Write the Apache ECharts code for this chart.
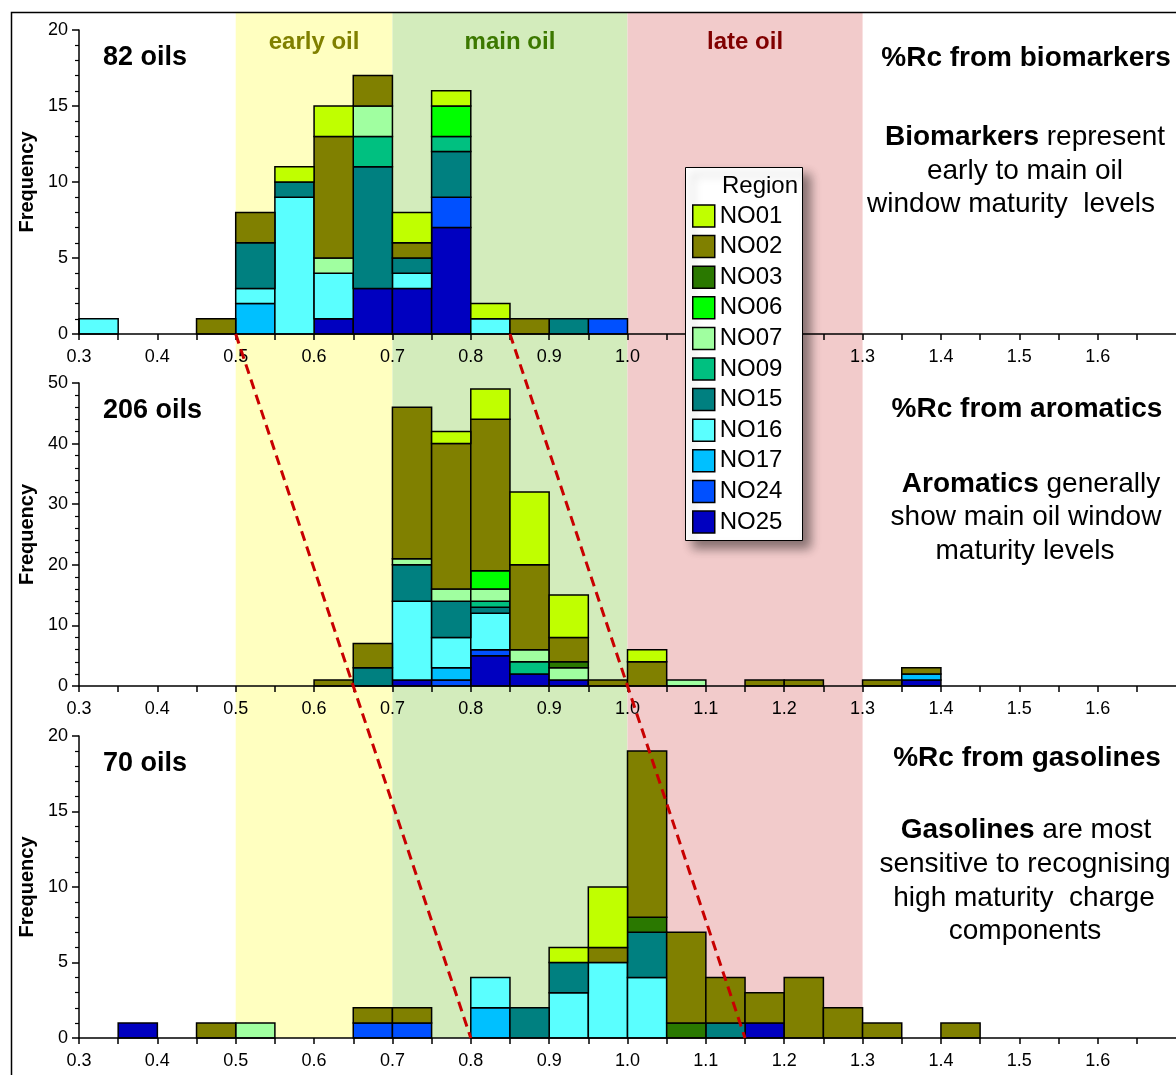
<!DOCTYPE html>
<html><head><meta charset="utf-8">
<script src="https://cdn.jsdelivr.net/npm/echarts@6/dist/echarts.min.js"></script>
<style>html,body{margin:0;padding:0;background:#fff}#c{width:1176px;height:1075px}</style>
</head><body><div id="c"></div>
<script>
// ---- data ----
// bin starts (%Rc), bin width 0.05
const binStarts = [0.30,0.35,0.40,0.45,0.50,0.55,0.60,0.65,0.70,0.75,0.80,0.85,0.90,0.95,1.00,1.05,1.10,1.15,1.20,1.25,1.30,1.35,1.40];
const binWidth = 0.05;
const regions = ['NO01','NO02','NO03','NO06','NO07','NO09','NO15','NO16','NO17','NO24','NO25'];
const regionColors = ['#C0FF00','#808000','#2A7800','#00FF00','#A0FFA0','#00C080','#008080','#5AFFFF','#00C0FF','#0050FF','#0000C0'];

// Biomarkers (82 oils)
const bio_NO01 = [0,0,0,0,0,1,2,0,2,1,1,0,0,0,0,0,0,0,0,0,0,0,0];
const bio_NO02 = [0,0,0,1,2,0,8,2,1,0,0,1,0,0,0,0,0,0,0,0,0,0,0];
const bio_NO03 = [0,0,0,0,0,0,0,0,0,0,0,0,0,0,0,0,0,0,0,0,0,0,0];
const bio_NO06 = [0,0,0,0,0,0,0,0,0,2,0,0,0,0,0,0,0,0,0,0,0,0,0];
const bio_NO07 = [0,0,0,0,0,0,1,2,0,0,0,0,0,0,0,0,0,0,0,0,0,0,0];
const bio_NO09 = [0,0,0,0,0,0,0,2,0,1,0,0,0,0,0,0,0,0,0,0,0,0,0];
const bio_NO15 = [0,0,0,0,3,1,0,8,1,3,0,0,1,0,0,0,0,0,0,0,0,0,0];
const bio_NO16 = [1,0,0,0,1,9,3,0,1,0,1,0,0,0,0,0,0,0,0,0,0,0,0];
const bio_NO17 = [0,0,0,0,2,0,0,0,0,0,0,0,0,0,0,0,0,0,0,0,0,0,0];
const bio_NO24 = [0,0,0,0,0,0,0,0,0,2,0,0,0,1,0,0,0,0,0,0,0,0,0];
const bio_NO25 = [0,0,0,0,0,0,1,3,3,7,0,0,0,0,0,0,0,0,0,0,0,0,0];

// Aromatics (206 oils)
const aro_NO01 = [0,0,0,0,0,0,0,0,0,2,5,12,7,0,2,0,0,0,0,0,0,0,0];
const aro_NO02 = [0,0,0,0,0,0,1,4,25,24,25,14,4,1,4,0,0,1,1,0,1,1,0];
const aro_NO03 = [0,0,0,0,0,0,0,0,0,0,0,0,1,0,0,0,0,0,0,0,0,0,0];
const aro_NO06 = [0,0,0,0,0,0,0,0,0,0,3,0,0,0,0,0,0,0,0,0,0,0,0];
const aro_NO07 = [0,0,0,0,0,0,0,0,1,2,2,2,2,0,0,1,0,0,0,0,0,0,0];
const aro_NO09 = [0,0,0,0,0,0,0,0,0,0,1,2,0,0,0,0,0,0,0,0,0,0,0];
const aro_NO15 = [0,0,0,0,0,0,0,3,6,6,1,0,0,0,0,0,0,0,0,0,0,0,0];
const aro_NO16 = [0,0,0,0,0,0,0,0,13,5,6,0,0,0,0,0,0,0,0,0,0,0,0];
const aro_NO17 = [0,0,0,0,0,0,0,0,0,2,0,0,0,0,0,0,0,0,0,0,0,1,0];
const aro_NO24 = [0,0,0,0,0,0,0,0,0,1,1,0,0,0,0,0,0,0,0,0,0,0,0];
const aro_NO25 = [0,0,0,0,0,0,0,0,1,0,5,2,1,0,0,0,0,0,0,0,0,1,0];

// Gasolines (70 oils)
const gas_NO01 = [0,0,0,0,0,0,0,0,0,0,0,0,1,4,0,0,0,0,0,0,0,0,0];
const gas_NO02 = [0,0,0,1,0,0,0,1,1,0,0,0,0,1,11,6,3,2,4,2,1,0,1];
const gas_NO03 = [0,0,0,0,0,0,0,0,0,0,0,0,0,0,1,1,0,0,0,0,0,0,0];
const gas_NO06 = [0,0,0,0,0,0,0,0,0,0,0,0,0,0,0,0,0,0,0,0,0,0,0];
const gas_NO07 = [0,0,0,0,1,0,0,0,0,0,0,0,0,0,0,0,0,0,0,0,0,0,0];
const gas_NO09 = [0,0,0,0,0,0,0,0,0,0,0,0,0,0,0,0,0,0,0,0,0,0,0];
const gas_NO15 = [0,0,0,0,0,0,0,0,0,0,0,2,2,0,3,0,1,0,0,0,0,0,0];
const gas_NO16 = [0,0,0,0,0,0,0,0,0,0,2,0,3,5,4,0,0,0,0,0,0,0,0];
const gas_NO17 = [0,0,0,0,0,0,0,0,0,0,2,0,0,0,0,0,0,0,0,0,0,0,0];
const gas_NO24 = [0,0,0,0,0,0,0,1,1,0,0,0,0,0,0,0,0,0,0,0,0,0,0];
const gas_NO25 = [0,1,0,0,0,0,0,0,0,0,0,0,0,0,0,0,0,1,0,0,0,0,0];

// maturity windows
const windowNames = ['early oil','main oil','late oil'];
const windowFrom = [0.5, 0.7, 1.0];
const windowTo = [0.7, 1.0, 1.3];
// dashed trend lines: [Rc, panel level] (2 = biomarkers axis, 1 = aromatics, 0 = gasolines)
const trendLow = [[0.5, 2], [0.65, 1], [0.8, 0]];
const trendHigh = [[0.85, 2], [1.0, 1], [1.15, 0]];
const yMaxes = [20, 50, 20];
const yIntervals = [5, 10, 5];
const oilCounts = ['82 oils', '206 oils', '70 oils'];

// ---- layout ----
const FONT = '"Liberation Sans", Arial, sans-serif';
const gridLeft = 79, gridWidth = 1098;
const panelTops = [30, 383, 736];
const panelHeights = [304, 303, 302];
const overlayTop = 13;
const overlayBottom = panelTops[2] + panelHeights[2];
const levelPx = (panelTops[2] + panelHeights[2]) - (panelTops[1] + panelHeights[1]);
const overlayMax = (overlayBottom - overlayTop) / levelPx;
const bandColors = ['#FFFFC0', '#D3ECBC', '#F2CBCB'];
const bandTextColors = ['#808000', '#3C7800', '#800000'];

const panels = [
  [bio_NO01,bio_NO02,bio_NO03,bio_NO06,bio_NO07,bio_NO09,bio_NO15,bio_NO16,bio_NO17,bio_NO24,bio_NO25],
  [aro_NO01,aro_NO02,aro_NO03,aro_NO06,aro_NO07,aro_NO09,aro_NO15,aro_NO16,aro_NO17,aro_NO24,aro_NO25],
  [gas_NO01,gas_NO02,gas_NO03,gas_NO06,gas_NO07,gas_NO09,gas_NO15,gas_NO16,gas_NO17,gas_NO24,gas_NO25]
];

function barItem(params, api) {
  const x0 = api.value(0), v = api.value(1), base = api.value(2);
  const p0 = api.coord([x0, base]);
  const p1 = api.coord([x0 + binWidth, base + v]);
  return {type:'rect', shape:{x:p0[0], y:p1[1], width:p1[0]-p0[0], height:p0[1]-p1[1]},
    style:{fill: api.visual('color'), stroke:'#000', lineWidth:1.5}};
}

const series = [];
// bands
series.push({
  type:'custom', xAxisIndex:0, yAxisIndex:0, z:1, silent:true,
  data: windowFrom.map((f,i)=>[f, windowTo[i], 0]),
  encode:{x:[0,1], y:2},
  renderItem: (params, api) => {
    const i = params.dataIndex;
    const p0 = api.coord([api.value(0), overlayMax]);
    const p1 = api.coord([api.value(1), 0]);
    return {type:'group', children:[
      {type:'rect', shape:{x:p0[0], y:p0[1], width:p1[0]-p0[0], height:p1[1]-p0[1]}, style:{fill:bandColors[i]}},
      {type:'text', x:(p0[0]+p1[0])/2, y:p0[1]+29, style:{text:windowNames[i], font:'bold 24px '+FONT, fill:bandTextColors[i], align:'center', verticalAlign:'middle', textAlign:'center', textVerticalAlign:'middle'}}
    ]};
  }
});
panels.forEach((pd, k) => {
  const base = binStarts.map(()=>0);
  for (let r = regions.length - 1; r >= 0; r--) {
    const data = [];
    pd[r].forEach((v, i) => { if (v > 0) { data.push([binStarts[i], v, base[i]]); base[i] += v; } });
    series.push({type:'custom', name:regions[r], xAxisIndex:k+1, yAxisIndex:k+1, z:2,
      itemStyle:{color:regionColors[r]}, encode:{x:0, y:1}, data, renderItem:barItem});
  }
});
[trendLow, trendHigh].forEach(t => series.push({
  type:'line', xAxisIndex:0, yAxisIndex:0, data:t, symbol:'none', silent:true, z:5,
  lineStyle:{color:'#C80000', width:3, type:[10,6]}
}));

const grids = [{left:gridLeft, width:gridWidth, top:overlayTop, height:overlayBottom-overlayTop}];
panelTops.forEach((t,k)=>grids.push({left:gridLeft, width:gridWidth, top:t, height:panelHeights[k]}));

const xAxes = [{gridIndex:0, type:'value', min:0.3, max:1.7, show:false}];
const yAxes = [{gridIndex:0, type:'value', min:0, max:overlayMax, show:false}];
const axisLineStyle = {color:'#000', width:1.5};
for (let k = 0; k < 3; k++) {
  xAxes.push({gridIndex:k+1, type:'value', min:0.3, max:1.7, interval:0.05, z:3,
    axisLine:{show:true, onZero:false, lineStyle:axisLineStyle},
    axisTick:{show:true, length:6, lineStyle:axisLineStyle},
    axisLabel:{show:true, fontSize:18, color:'#000', fontFamily:FONT, margin:14, showMaxLabel:false,
      formatter: v => Math.abs(v*10 - Math.round(v*10)) < 1e-6 ? v.toFixed(1) : ''},
    splitLine:{show:false}});
  yAxes.push({gridIndex:k+1, type:'value', min:0, max:yMaxes[k], interval:yIntervals[k], z:3,
    axisLine:{show:true, lineStyle:axisLineStyle},
    axisTick:{show:true, length:7, lineStyle:axisLineStyle},
    minorTick:{show:true, splitNumber:5, length:4, lineStyle:{color:'#000', width:1.2}},
    axisLabel:{fontSize:18, color:'#000', fontFamily:FONT, margin:11},
    splitLine:{show:false},
    name:'Frequency', nameLocation:'middle', nameGap:36,
    nameTextStyle:{fontSize:20, fontWeight:'bold', color:'#000', fontFamily:FONT}});
}

function txt(x, y, text, font, rich, align) {
  return {type:'text', x, y, z:70, style:{text, font, fill:'#000', rich,
    align: align||'center', verticalAlign:'middle', textAlign: align||'center', textVerticalAlign:'middle'}};
}
const H = 'bold 28px ' + FONT, P = '28px ' + FONT, C = 'bold 27px ' + FONT;
const richB = {b:{fontWeight:'bold', fontSize:28, fontFamily:FONT}, n:{fontSize:28, fontFamily:FONT}};
const graphics = [
  {type:'rect', z:40, shape:{x:11.5, y:12.5, width:1300, height:1200}, style:{fill:null, stroke:'#000', lineWidth:1.5}, silent:true},
  {type:'rect', z:50, shape:{x:685.5, y:167.5, width:117, height:373}, style:{fill:'#fff', stroke:'#000', lineWidth:1, shadowBlur:10, shadowOffsetX:7, shadowOffsetY:7, shadowColor:'rgba(0,0,0,0.45)'}},
  txt(760, 186, 'Region', '24px ' + FONT),
  txt(103, 58, oilCounts[0], C, null, 'left'),
  txt(103, 411, oilCounts[1], C, null, 'left'),
  txt(103, 764, oilCounts[2], C, null, 'left'),
  txt(1026, 58, '%Rc from biomarkers', H),
  txt(1025, 137, '{b|Biomarkers}{n| represent}', P, richB),
  txt(1025, 171, 'early to main oil', P),
  txt(1011, 204, 'window maturity  levels', P),
  txt(1027, 409, '%Rc from aromatics', H),
  txt(1031, 484, '{b|Aromatics}{n| generally}', P, richB),
  txt(1026, 517, 'show main oil window', P),
  txt(1025, 551, 'maturity levels', P),
  txt(1027, 758, '%Rc from gasolines', H),
  txt(1026, 830, '{b|Gasolines}{n| are most}', P, richB),
  txt(1025, 864, 'sensitive to recognising', P),
  txt(1024, 898, 'high maturity  charge', P),
  txt(1025, 931, 'components', P)
];

const chart = echarts.init(document.getElementById('c'));
chart.setOption({
  animation:false,
  backgroundColor:'#fff',
  textStyle:{fontFamily:FONT},
  grid:grids, xAxis:xAxes, yAxis:yAxes, series,
  legend:{data:regions, orient:'vertical', left:692, top:204, padding:0, itemWidth:22, itemHeight:22, itemGap:6.6,
    icon:'rect', selectedMode:false, z:60,
    itemStyle:{borderColor:'#000', borderWidth:1.5},
    textStyle:{fontSize:24, color:'#000', fontFamily:FONT}},
  graphic:{elements:graphics}
});
</script></body></html>
